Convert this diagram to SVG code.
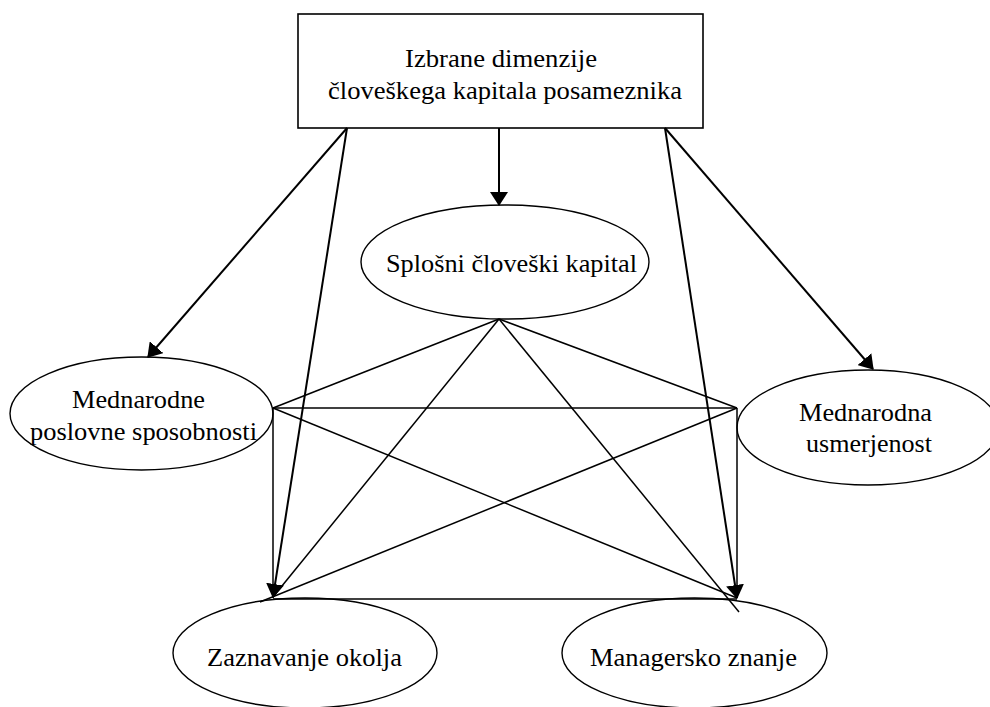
<svg xmlns="http://www.w3.org/2000/svg" width="990" height="707" viewBox="0 0 990 707">
<style>
text{font-family:"Liberation Serif","Times New Roman",serif;font-size:25.5px;fill:#000}
.shape{fill:#fff;stroke:#000;stroke-width:1.4}
.box{fill:#fff;stroke:#000;stroke-width:1.6}
.arrow{stroke:#000;stroke-width:2;fill:none;marker-end:url(#ah)}
.link{stroke:#000;stroke-width:1.5;fill:none}
</style>
<defs>
<marker id="ah" markerUnits="userSpaceOnUse" markerWidth="14" markerHeight="18" viewBox="0 0 14 18" refX="13" refY="9" orient="auto">
<path d="M0,0 L14,9 L0,18 z" fill="#000"/>
</marker>
</defs>
<g id="n-top">
<rect class="box" x="298" y="14" width="405" height="114"/>
<text x="405" y="67" textLength="192" lengthAdjust="spacingAndGlyphs">Izbrane dimenzije</text>
<text x="328" y="98.5" textLength="354" lengthAdjust="spacingAndGlyphs">človeškega kapitala posameznika</text>
</g>
<g id="n-splosni">
<ellipse class="shape" cx="505" cy="262" rx="144" ry="57"/>
<text x="386" y="272" textLength="251" lengthAdjust="spacingAndGlyphs">Splošni človeški kapital</text>
</g>
<g id="n-poslovne">
<ellipse class="shape" cx="141.5" cy="413.5" rx="131.5" ry="56.5"/>
<text x="72" y="408" textLength="133" lengthAdjust="spacingAndGlyphs">Mednarodne</text>
<text x="30" y="440" textLength="227" lengthAdjust="spacingAndGlyphs">poslovne sposobnosti</text>
</g>
<g id="n-usmerjenost">
<ellipse class="shape" cx="868" cy="427.5" rx="131" ry="57.5"/>
<text x="799" y="421" textLength="133" lengthAdjust="spacingAndGlyphs">Mednarodna</text>
<text x="806" y="452" textLength="126" lengthAdjust="spacingAndGlyphs">usmerjenost</text>
</g>
<g id="n-zaznavanje">
<ellipse class="shape" cx="305" cy="653" rx="132" ry="55"/>
<text x="207" y="666" textLength="195" lengthAdjust="spacingAndGlyphs">Zaznavanje okolja</text>
</g>
<g id="n-managersko">
<ellipse class="shape" cx="694.5" cy="653" rx="132.5" ry="55"/>
<text x="590" y="666" textLength="207" lengthAdjust="spacingAndGlyphs">Managersko znanje</text>
</g>
<g id="connectors">
<line class="link" x1="273" y1="408" x2="737" y2="408"/>
<line class="link" x1="273" y1="408" x2="273" y2="598"/>
<line class="link" x1="737" y1="408" x2="737" y2="598"/>
<line class="link" x1="273" y1="599" x2="737" y2="599"/>
<line class="link" x1="499" y1="319" x2="273" y2="597"/>
<line class="link" x1="499" y1="319" x2="739" y2="612"/>
<line class="link" x1="499" y1="319" x2="273" y2="408"/>
<line class="link" x1="499" y1="319" x2="737" y2="408"/>
<line class="link" x1="273" y1="408" x2="737" y2="598"/>
<line class="link" x1="737" y1="408" x2="260" y2="602"/>
<line class="arrow" x1="347" y1="128" x2="148" y2="357"/>
<line class="arrow" x1="347" y1="128" x2="273" y2="597"/>
<line class="arrow" x1="499" y1="128" x2="499" y2="205"/>
<line class="arrow" x1="665" y1="128" x2="873" y2="369"/>
<line class="arrow" x1="665" y1="128" x2="737" y2="598"/>
</g>
</svg>
